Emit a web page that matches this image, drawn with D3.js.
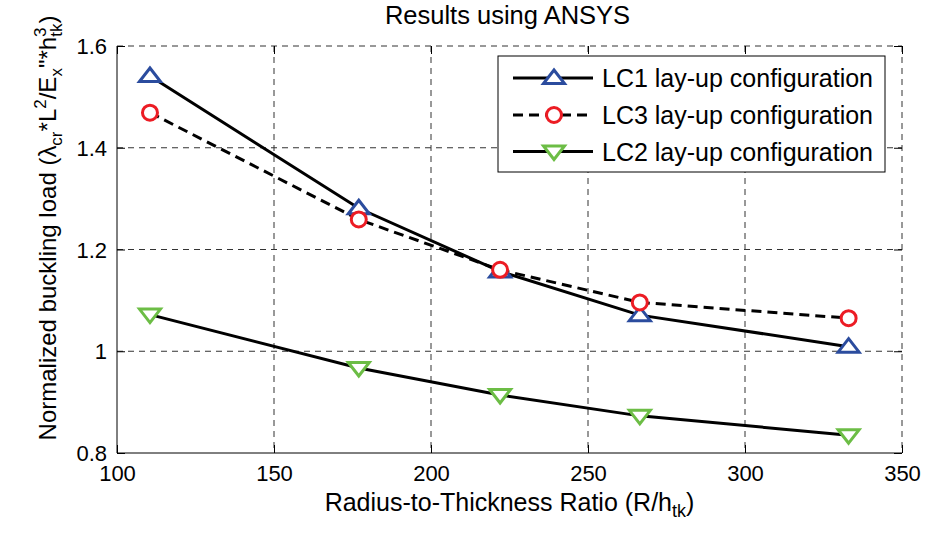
<!DOCTYPE html>
<html>
<head>
<meta charset="utf-8">
<script src="https://cdn.jsdelivr.net/npm/d3@7"></script>
<style>
  html, body { margin: 0; padding: 0; background: #fff; }
  svg { display: block; font-family: "Liberation Sans", Arial, Helvetica, sans-serif; }
</style>
</head>
<body>
<svg id="chart" width="929" height="533"></svg>
<script>
// ---- data ----
const ratios = [110.5, 177, 222, 266.5, 333];
const lc1 = [1.541, 1.281, 1.157, 1.071, 1.009];
const lc3 = [1.469, 1.259, 1.160, 1.096, 1.065];
const lc2 = [1.072, 0.967, 0.914, 0.873, 0.835];
const seriesNames = ["LC1 lay-up configuration", "LC3 lay-up configuration", "LC2 lay-up configuration"];
const xTicks = [100, 150, 200, 250, 300, 350];
const yTicks = [0.8, 1.0, 1.2, 1.4, 1.6];
const yTickLabels = ["0.8", "1", "1.2", "1.4", "1.6"];
const titleText = "Results using ANSYS";

// ---- layout ----
const W = 929, H = 533;
const m = { left: 117, right: 902, top: 46, bottom: 453 };
const svg = d3.select("#chart");

const x = d3.scaleLinear().domain([100, 350]).range([m.left, m.right]);
const y = d3.scaleLinear().domain([0.8, 1.6]).range([m.bottom, m.top]);

const series = [
  { name: seriesNames[0], values: lc1, marker: "up", color: "#2b4c9e", dash: null },
  { name: seriesNames[1], values: lc3, marker: "circle", color: "#ec1c24", dash: "10,6" },
  { name: seriesNames[2], values: lc2, marker: "down", color: "#6cbd45", dash: null }
];

const gridColor = "#333";
// grid
const grid = svg.append("g");
grid.selectAll(".vg").data(xTicks.slice(1, -1)).enter().append("line")
  .attr("x1", d => x(d)).attr("x2", d => x(d))
  .attr("y1", m.top).attr("y2", m.bottom)
  .attr("stroke", gridColor).attr("stroke-width", 1).attr("stroke-dasharray", "6,5");
grid.selectAll(".hg").data(yTicks.slice(1, -1)).enter().append("line")
  .attr("x1", m.left).attr("x2", m.right)
  .attr("y1", d => y(d)).attr("y2", d => y(d))
  .attr("stroke", gridColor).attr("stroke-width", 1).attr("stroke-dasharray", "6,5");
grid.append("line").attr("x1", m.left).attr("x2", m.right).attr("y1", m.top).attr("y2", m.top)
  .attr("stroke", gridColor).attr("stroke-dasharray", "6,5");
grid.append("line").attr("x1", m.right).attr("x2", m.right).attr("y1", m.top).attr("y2", m.bottom)
  .attr("stroke", gridColor).attr("stroke-dasharray", "6,5");

// axes
const tickLen = 8;
const xAxis = d3.axisBottom(x).tickValues(xTicks).tickSizeInner(-tickLen).tickSizeOuter(0).tickPadding(12);
const yAxis = d3.axisLeft(y).tickValues(yTicks).tickFormat((d, i) => yTickLabels[i]).tickSizeInner(-tickLen).tickSizeOuter(0).tickPadding(10);
const gx = svg.append("g").attr("transform", `translate(0,${m.bottom})`).call(xAxis);
const gy = svg.append("g").attr("transform", `translate(${m.left},0)`).call(yAxis);
const gxt = svg.append("g").attr("transform", `translate(0,${m.top})`).call(d3.axisTop(x).tickValues(xTicks).tickSizeInner(-tickLen).tickSizeOuter(0).tickFormat(""));
const gyr = svg.append("g").attr("transform", `translate(${m.right},0)`).call(d3.axisRight(y).tickValues(yTicks).tickSizeInner(-tickLen).tickSizeOuter(0).tickFormat(""));
[gx, gy, gxt, gyr].forEach(g => {
  g.select(".domain").remove();
  g.selectAll(".tick line").attr("stroke", "#000").attr("stroke-width", 1);
  g.selectAll("text").attr("font-size", 22).attr("fill", "#000").attr("font-family", "Liberation Sans, Arial, sans-serif");
});
gy.selectAll("text").attr("dy", "0.35em");
gx.selectAll("text").attr("dy", "0.71em");
svg.append("line").attr("x1", m.left).attr("x2", m.left).attr("y1", m.top).attr("y2", m.bottom).attr("stroke", "#000").attr("stroke-width", 1);
svg.append("line").attr("x1", m.left).attr("x2", m.right).attr("y1", m.bottom).attr("y2", m.bottom).attr("stroke", "#000").attr("stroke-width", 1);

// markers
function markerPath(type) {
  if (type === "up") return "M0,-8L10.5,5.5L-10.5,5.5Z";
  if (type === "down") return "M0,8L10.5,-5.5L-10.5,-5.5Z";
  return null;
}
function drawMarker(g, type, color) {
  if (type === "circle") {
    g.append("circle").attr("r", 7.5).attr("fill", "#fff").attr("stroke", color).attr("stroke-width", 3);
  } else {
    g.append("path").attr("d", markerPath(type)).attr("fill", "#fff").attr("stroke", color).attr("stroke-width", 3).attr("stroke-linejoin", "miter");
  }
}

const line = d3.line().x(d => x(d[0])).y(d => y(d[1]));
series.forEach(s => {
  const pts = ratios.map((r, i) => [r, s.values[i]]);
  svg.append("path").attr("d", line(pts)).attr("fill", "none").attr("stroke", "#000")
    .attr("stroke-width", 3).attr("stroke-dasharray", s.dash);
});
series.forEach(s => {
  ratios.forEach((r, i) => {
    const g = svg.append("g").attr("transform", `translate(${x(r)},${y(s.values[i])})`);
    drawMarker(g, s.marker, s.color);
  });
});

// legend
const lg = svg.append("g");
lg.append("rect").attr("x", 498).attr("y", 56).attr("width", 387).attr("height", 116)
  .attr("fill", "#fff").attr("stroke", "#000").attr("stroke-width", 1);
const rowY = [78, 115, 151.5];
series.forEach((s, i) => {
  lg.append("line").attr("x1", 513).attr("x2", 593).attr("y1", rowY[i]).attr("y2", rowY[i])
    .attr("stroke", "#000").attr("stroke-width", 3).attr("stroke-dasharray", s.dash);
  const g = lg.append("g").attr("transform", `translate(554,${rowY[i]})`);
  drawMarker(g, s.marker, s.color);
  lg.append("text").attr("x", 602).attr("y", rowY[i]).attr("dy", "0.36em")
    .attr("font-size", 25).attr("fill", "#000").text(s.name);
});

// title
svg.append("text").attr("x", (m.left + m.right) / 2 - 2).attr("y", 24).attr("text-anchor", "middle")
  .attr("font-size", 25.5).attr("fill", "#000").text(titleText);

// x label
const xl = svg.append("text").attr("x", (m.left + m.right) / 2).attr("y", 511).attr("text-anchor", "middle")
  .attr("font-size", 25).attr("fill", "#000");
xl.append("tspan").text("Radius-to-Thickness Ratio (R/h");
xl.append("tspan").attr("font-size", 18).attr("dy", 6).text("tk");
xl.append("tspan").attr("dy", -6).text(")");

// y label
const yl = svg.append("text").attr("transform", `translate(56,228) rotate(-90)`).attr("text-anchor", "middle")
  .attr("font-size", 24).attr("fill", "#000");
yl.append("tspan").text("Normalized buckling load (λ");
yl.append("tspan").attr("font-size", 17).attr("dy", 6).text("cr");
yl.append("tspan").attr("dy", -6).text("*L");
yl.append("tspan").attr("font-size", 17).attr("dy", -10).text("2");
yl.append("tspan").attr("dy", 10).text("/E");
yl.append("tspan").attr("font-size", 17).attr("dy", 6).text("x");
yl.append("tspan").attr("dy", -6).text("\"*h");
yl.append("tspan").attr("font-size", 17).attr("dy", -10).text("3");
yl.append("tspan").attr("font-size", 17).attr("dx", -9.4).attr("dy", 16).text("tk");
yl.append("tspan").attr("dy", -6).text(")");
</script>
</body>
</html>
